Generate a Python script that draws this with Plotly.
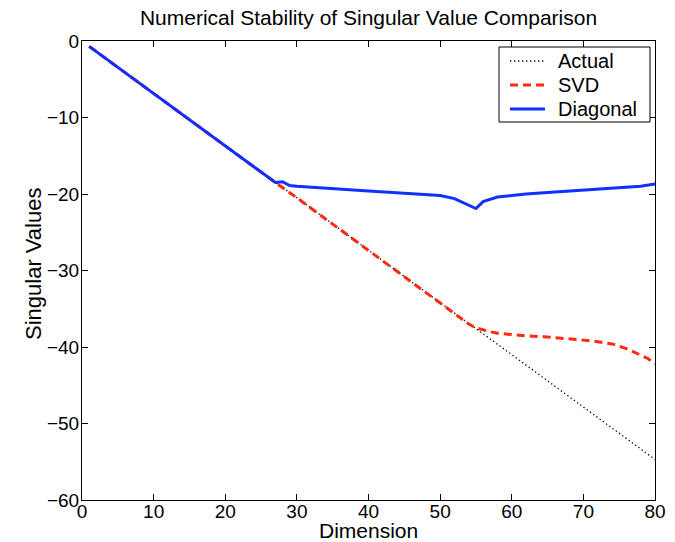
import plotly.graph_objects as go

# Exact singular values (log scale) across the dimension sweep
actual_dim = [1, 10, 20, 30, 40, 50, 60, 70, 80]
actual_val = [-0.7, -6.9, -13.7, -20.5, -27.4, -34.2, -41.0, -47.9, -54.7]

# Singular values from the SVD routine
svd_dim = [1, 10, 20, 27, 30, 40, 50, 53, 54, 55, 56, 57, 58, 60, 62, 65,
           68, 70, 72, 74, 76, 78, 79, 80]
svd_val = [-0.7, -6.9, -13.7, -18.5, -20.5, -27.4, -34.2, -36.3, -37.0, -37.5,
           -37.8, -38.0, -38.2, -38.4, -38.55, -38.7, -38.9, -39.1, -39.3,
           -39.6, -40.2, -41.0, -41.5, -42.2]

# Singular values from the diagonal method
diag_dim = [1, 10, 20, 26, 27, 28, 29, 30, 32, 35, 40, 45, 50, 52, 53, 54,
            55, 56, 57, 58, 60, 62, 65, 70, 75, 78, 80]
diag_val = [-0.7, -6.9, -13.7, -17.8, -18.5, -18.4, -18.9, -19.0, -19.1,
            -19.3, -19.6, -19.9, -20.2, -20.6, -21.0, -21.5, -21.9, -21.0,
            -20.7, -20.4, -20.2, -20.0, -19.8, -19.5, -19.2, -19.0, -18.7]

x_ticks = [0, 10, 20, 30, 40, 50, 60, 70, 80]
y_ticks = [0, -10, -20, -30, -40, -50, -60]
series_names = ["Actual", "SVD", "Diagonal"]

FONT = "Liberation Sans, Arial, Helvetica, sans-serif"
W, H = 675, 542
L, R, T, B = 82, 20, 41, 42
PW, PH = W - L - R, H - T - B

styles = [
    dict(color="black", width=1.3, dash="1.3px,2.7px"),
    dict(color="#ff2a10", width=3, dash="8px,5px"),
    dict(color="#1030ff", width=3),
]


def px_x(p):
    """Pixel column -> paper x."""
    return (p - L) / PW


def px_y(p):
    """Pixel row -> paper y."""
    return 1 - (p - T) / PH


fig = go.Figure()
for xs, ys, name, st in zip([actual_dim, svd_dim, diag_dim],
                            [actual_val, svd_val, diag_val],
                            series_names, styles):
    fig.add_trace(go.Scatter(x=xs, y=ys, mode="lines", name=name,
                             line=st, showlegend=False))

axis_common = dict(
    showgrid=False, zeroline=False, showline=True, linecolor="black",
    linewidth=1, mirror="ticks", ticks="inside", ticklen=6,
    tickcolor="black", automargin=False,
    tickfont=dict(family=FONT, size=19, color="black"),
)

# Boxed legend in the upper-right corner of the axes
shapes = [dict(type="rect", xref="paper", yref="paper",
               x0=px_x(499), x1=px_x(650), y0=px_y(122), y1=px_y(47),
               line=dict(color="black", width=1), fillcolor="white",
               layer="above")]
annotations = []
for i, (name, st) in enumerate(zip(series_names, styles)):
    row = 61 + 24 * i
    shapes.append(dict(type="line", xref="paper", yref="paper",
                       x0=px_x(510), x1=px_x(545), y0=px_y(row), y1=px_y(row),
                       line=st, layer="above"))
    annotations.append(dict(text=name, xref="paper", yref="paper",
                            x=px_x(556), y=px_y(row), xanchor="left",
                            yanchor="middle", showarrow=False,
                            font=dict(family=FONT, size=20, color="black")))

# Axis titles
annotations.append(dict(text="Dimension", xref="paper", yref="paper",
                        x=0.5, y=px_y(543), xanchor="center", yanchor="bottom",
                        showarrow=False, borderpad=0,
                        font=dict(family=FONT, size=21, color="black")))
annotations.append(dict(text="Singular Values", xref="paper", yref="paper",
                        x=px_x(33), y=px_y(264), xanchor="center",
                        yanchor="middle", textangle=-90, showarrow=False,
                        font=dict(family=FONT, size=22, color="black")))

fig.update_layout(
    width=W, height=H,
    margin=dict(l=L, r=R, t=T, b=B),
    paper_bgcolor="white", plot_bgcolor="white",
    font=dict(family=FONT, color="black"),
    title=dict(text="Numerical Stability of Singular Value Comparison",
               x=0.5, xref="paper", xanchor="center",
               y=1 - 18 / H, yref="container", yanchor="middle",
               font=dict(family=FONT, size=21, color="black")),
    xaxis=dict(range=[0, 80], tickvals=x_ticks, ticklabelstandoff=-6,
               **axis_common),
    yaxis=dict(range=[-60, 0], tickvals=y_ticks, ticklabelstandoff=-2,
               **axis_common),
    shapes=shapes,
    annotations=annotations,
    showlegend=False,
)

fig.write_html("out.html")
